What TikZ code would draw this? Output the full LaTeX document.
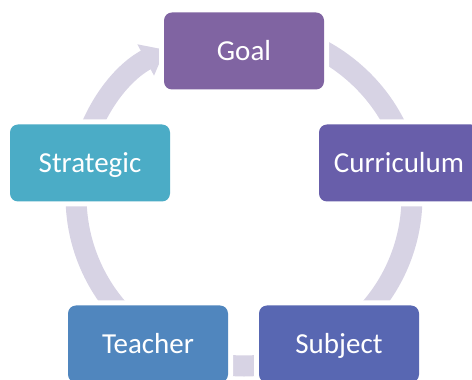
\documentclass[tikz,border=0pt]{standalone}
\usepackage{fontspec}
\setmainfont{Carlito}
\usepackage{tikz}
\usetikzlibrary{positioning,arrows.meta,calc,backgrounds}
\definecolor{goalpurple}{RGB}{128,100,162}
\definecolor{currpurple}{RGB}{104,94,170}
\definecolor{subjblue}{RGB}{88,103,178}
\definecolor{teachblue}{RGB}{80,134,190}
\definecolor{stratteal}{RGB}{75,172,198}
\definecolor{ringgrey}{RGB}{215,211,228}

\begin{document}
\begin{tikzpicture}[x=1pt, y=1pt,
  stage/.style={rectangle, rounded corners=8pt, minimum width=160pt, minimum height=77pt,
    text=white, font=\fontsize{29}{35}\selectfont, text height=18.6pt, text depth=0pt,
    preaction={draw=white, line width=10pt}},
  ringseg/.style={draw=ringgrey, line width=21pt, looseness=0.93}]
\useasboundingbox (0,0) rectangle (472,380);

% the five stages
\node[stage, fill=goalpurple] (goal) at (244,329) {Goal};
\node[stage, fill=currpurple] (curr) at (399,217) {Curriculum};
\node[stage, fill=subjblue] (subj) at (339,36) {Subject};
\node[stage, fill=teachblue] (teach) at (148,36) {Teacher};
\node[stage, fill=stratteal] (strat) at (90,217) {Strategic};

% points on the ring behind them
\coordinate (ring) at (244,182);
\coordinate (goal-r) at ($(ring)+(90:168)$);
\coordinate (curr-r) at ($(ring)+(12.7:168)$);
\coordinate (subj-r) at ($(ring)+(-57:168)$);
\coordinate (teach-r) at ($(ring)+(-123:168)$);
\coordinate (strat-r) at ($(ring)+(167.2:168)$);
\coordinate (goal-in) at ($(ring)+(118:168)$);

\begin{scope}[on background layer]
\draw[ringseg] (goal-r) to[bend left=38.6] (curr-r);
\draw[ringseg] (curr-r) to[bend left=34.9] (subj-r);
\draw[ringseg] (subj-r) to[bend left=33] (teach-r);
\draw[ringseg] (teach-r) to[bend left=34.9] (strat-r);
\draw[ringseg, -{Triangle[width=34pt, length=22pt]}] (strat-r) to[bend left=24.6] (goal-in);
\end{scope}
\end{tikzpicture}
\end{document}
